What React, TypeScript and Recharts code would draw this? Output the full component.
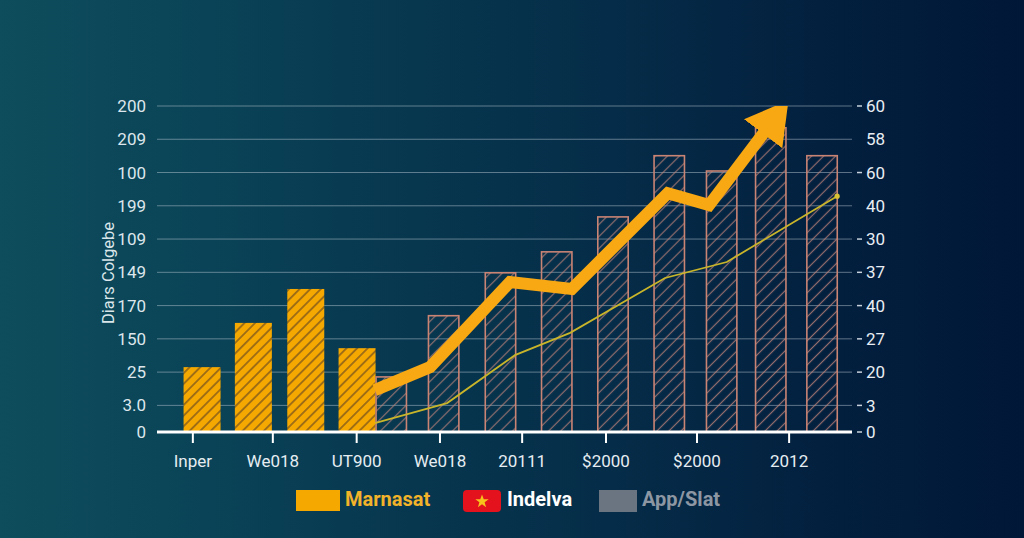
import React from 'react';
import { ComposedChart, Bar, Line, XAxis, YAxis, CartesianGrid, Legend } from 'recharts';

// ---- data ----
const leftTickValues = [0, 0.8, 1.8, 2.8, 3.8, 4.8, 5.8, 6.8, 7.8, 8.8, 9.8];
const leftTickLabels = ['0', '3.0', '25', '150', '170', '149', '109', '199', '100', '209', '200'];
const rightTickLabels = ['-0', '-3', '-20', '-27', '-40', '-37', '-30', '40', '-60', '58', '-60'];
const xTickValues = [0.65, 2.1, 3.62, 5.13, 6.62, 8.14, 9.79, 11.46];
const xTickLabels = ['Inper', 'We018', 'UT900', 'We018', '20111', '$2000', '$2000', '2012'];

const marnasatX = [0.82, 1.75, 2.7, 3.63];
const marnasatValues = [1.95, 3.28, 4.3, 2.52];
const appSlatX = [4.25, 5.2, 6.23, 7.25, 8.27, 9.29, 10.24, 11.13, 12.06];
const appSlatValues = [1.68, 3.52, 4.81, 5.44, 6.49, 8.33, 7.87, 9.17, 8.33];
const indelvaX = [3.95, 4.95, 6.4, 7.52, 9.26, 10.01, 11.0];
const indelvaValues = [1.26, 1.95, 4.51, 4.3, 7.18, 6.82, 8.99];
const trendX = [3.95, 5.26, 6.49, 7.49, 9.21, 10.33, 12.33];
const trendValues = [0.27, 0.87, 2.31, 2.98, 4.63, 5.11, 7.09];

const legendNames = ['Marnasat', 'Indelva', 'App/Slat'];

// build merged table
const rowMap = new Map<number, any>();
const put = (xs: number[], vals: number[], key: string) => {
  xs.forEach((x, i) => {
    const r = rowMap.get(x) ?? { x };
    r[key] = vals[i];
    rowMap.set(x, r);
  });
};
put(marnasatX, marnasatValues, 'marnasat');
put(appSlatX, appSlatValues, 'appSlat');
put(indelvaX, indelvaValues, 'indelva');
put(trendX, trendValues, 'trend');
const data = Array.from(rowMap.values()).sort((a, b) => a.x - b.x);

const FONT = 'Roboto, "Noto Sans", sans-serif';

// bar shape: keeps the library's centre and height, draws with a fixed visual width
const makeBarShape = (w: number, fill: string, stroke?: string, sw?: number) => (p: any) => {
  const { x, y, width, height } = p;
  if (!(height > 0) || x == null || isNaN(x)) return <g />;
  const cx = x + width / 2;
  const inset = sw ? sw / 2 : 0;
  return (
    <rect
      x={cx - w / 2 + inset}
      y={y + inset}
      width={w - 2 * inset}
      height={height - inset}
      fill={fill}
      stroke={stroke}
      strokeWidth={sw}
    />
  );
};
const orangeShape = makeBarShape(37, 'url(#hatchOrange)');
const salmonShape = makeBarShape(32, 'url(#hatchSalmon)', '#c98474', 1.6);

const RightTick = (props: any) => {
  const { x, y, payload } = props;
  const i = leftTickValues.indexOf(payload.value);
  const label = rightTickLabels[i] ?? '';
  const dash = label.startsWith('-');
  const text = dash ? label.slice(1) : label;
  return (
    <g>
      {dash && <line x1={x} x2={x + 5} y1={y} y2={y} stroke="#c9d3dd" strokeWidth={1.5} />}
      <text x={x + 9} y={y} dy="0.36em" textAnchor="start" fill="#e8edf3" fontSize={17} fontFamily={FONT}>
        {text}
      </text>
    </g>
  );
};

const trendDot = (props: any) => {
  const { cx, cy, index } = props;
  if (index !== data.length - 1 || cx == null) return <g key={`td-${index}`} />;
  return <circle key={`td-${index}`} cx={cx} cy={cy} r={2.6} fill="#d9c234" />;
};

const YLabel = (props: any) => {
  const vb = props.viewBox || {};
  const cx = (vb.x ?? 0) + (vb.width ?? 157) - 49;
  const cy = (vb.y ?? 106) + (vb.height ?? 326) / 2 + 4;
  return (
    <text
      x={cx}
      y={cy}
      transform={`rotate(-90 ${cx} ${cy})`}
      textAnchor="middle"
      dominantBaseline="central"
      fill="#dbe6ea"
      fontSize={16.5}
      fontFamily={FONT}
    >
      Diars Colgebe
    </text>
  );
};

const LegendContent = () => (
  <div style={{ position: 'relative', width: 1024, height: 26, fontFamily: FONT }}>
    <div style={{ position: 'absolute', left: 296, top: 4, width: 44, height: 21, background: '#f5a800' }} />
    <span style={{ position: 'absolute', left: 345, top: 0, lineHeight: '26px', fontSize: 20, fontWeight: 700, color: '#f2b32a' }}>
      {legendNames[0]}
    </span>
    <div
      style={{
        position: 'absolute', left: 463, top: 4, width: 38, height: 22, background: '#e3121c', borderRadius: 4,
        display: 'flex', alignItems: 'center', justifyContent: 'center',
      }}
    >
      <svg width={14} height={14} viewBox="0 0 24 24">
        <polygon points="12,1 15,9 23.5,9 16.5,14 19,22.5 12,17.5 5,22.5 7.5,14 0.5,9 9,9" fill="#f8c21c" />
      </svg>
    </div>
    <span style={{ position: 'absolute', left: 507, top: 0, lineHeight: '26px', fontSize: 20, fontWeight: 700, color: '#ffffff' }}>
      {legendNames[1]}
    </span>
    <div style={{ position: 'absolute', left: 599, top: 4, width: 38, height: 22, background: '#6b7582' }} />
    <span style={{ position: 'absolute', left: 642, top: 0, lineHeight: '26px', fontSize: 20, fontWeight: 700, color: '#8d97a3' }}>
      {legendNames[2]}
    </span>
  </div>
);

export default function App() {
  return (
    <div
      style={{
        position: 'fixed', left: 0, top: 0, width: 1024, height: 538, overflow: 'hidden',
        background: 'linear-gradient(90deg, #0e4d5c 0%, #0a4357 20%, #07374f 40%, #052c48 60%, #03203f 80%, #011737 100%)',
      }}
    >
      <svg width={0} height={0} style={{ position: 'absolute' }}>
        <defs>
          <pattern id="hatchOrange" patternUnits="userSpaceOnUse" width={7.5} height={7.5} patternTransform="rotate(45)">
            <rect width={7.5} height={7.5} fill="#f5a800" />
            <line x1={3.75} y1={0} x2={3.75} y2={7.5} stroke="#9a6a16" strokeWidth={1.8} />
          </pattern>
          <pattern id="hatchSalmon" patternUnits="userSpaceOnUse" width={8.5} height={8.5} patternTransform="rotate(45)">
            <line x1={4.25} y1={0} x2={4.25} y2={8.5} stroke="#c4857a" strokeOpacity={0.75} strokeWidth={1.2} />
          </pattern>
          <marker id="arrowHead" viewBox="0 0 42 48" refX={1} refY={24} markerWidth={42} markerHeight={48} markerUnits="userSpaceOnUse" orient="auto">
            <path d="M0,0 L42,24 L0,48 Z" fill="#f7a812" />
          </marker>
        </defs>
      </svg>
      <ComposedChart
        width={1024}
        height={538}
        data={data}
        margin={{ top: 106, right: 0, bottom: 0, left: 0 }}
        style={{ fontFamily: FONT }}
      >
        <CartesianGrid xAxisId="a" yAxisId="left" vertical={false} stroke="#b9c7d2" strokeOpacity={0.5} strokeWidth={1} />
        <XAxis
          xAxisId="a"
          dataKey="x"
          type="number"
          domain={[0, 12.6]}
          allowDataOverflow
          ticks={xTickValues}
          interval={0}
          tickFormatter={(v: number) => xTickLabels[xTickValues.indexOf(v)] ?? ''}
          height={80}
          axisLine={{ stroke: '#ffffff', strokeWidth: 3 }}
          tickLine={{ stroke: '#ffffff', strokeWidth: 2 }}
          tickSize={11}
          tickMargin={12}
          tick={{ fill: '#e6edf2', fontSize: 17, fontFamily: FONT }}
        />
        <XAxis xAxisId="b" dataKey="x" type="number" domain={[0, 12.6]} allowDataOverflow hide />
        <YAxis
          yAxisId="left"
          orientation="left"
          width={157}
          domain={[0, 9.8]}
          ticks={leftTickValues}
          interval={0}
          allowDataOverflow
          tickFormatter={(v: number) => leftTickLabels[leftTickValues.indexOf(v)] ?? ''}
          axisLine={false}
          tickLine={false}
          tickSize={6}
          tickMargin={5}
          tick={{ fill: '#dde6ec', fontSize: 17, fontFamily: FONT }}
          label={<YLabel />}
        />
        <YAxis
          yAxisId="right"
          orientation="right"
          width={172}
          domain={[0, 9.8]}
          ticks={leftTickValues}
          interval={0}
          allowDataOverflow
          axisLine={false}
          tickLine={false}
          tickSize={5}
          tickMargin={0}
          tick={<RightTick />}
        />
        <Bar xAxisId="a" yAxisId="left" dataKey="marnasat" name={legendNames[0]} fill="#f5a800" shape={orangeShape} isAnimationActive={false} />
        <Bar xAxisId="b" yAxisId="left" dataKey="appSlat" name={legendNames[2]} fill="#6b7582" shape={salmonShape} isAnimationActive={false} />
        <Line
          xAxisId="a"
          yAxisId="left"
          dataKey="trend"
          type="linear"
          stroke="#c9b52a"
          strokeWidth={1.8}
          connectNulls
          dot={trendDot}
          activeDot={false}
          isAnimationActive={false}
        />
        <Line
          xAxisId="a"
          yAxisId="left"
          dataKey="indelva"
          name={legendNames[1]}
          type="linear"
          stroke="#f7a812"
          strokeWidth={12}
          strokeLinejoin="miter"
          connectNulls
          dot={false}
          activeDot={false}
          markerEnd="url(#arrowHead)"
          isAnimationActive={false}
        />
        <Legend verticalAlign="bottom" content={<LegendContent />} wrapperStyle={{ left: 0, top: 486, width: 1024, height: 26 }} />
      </ComposedChart>
    </div>
  );
}
